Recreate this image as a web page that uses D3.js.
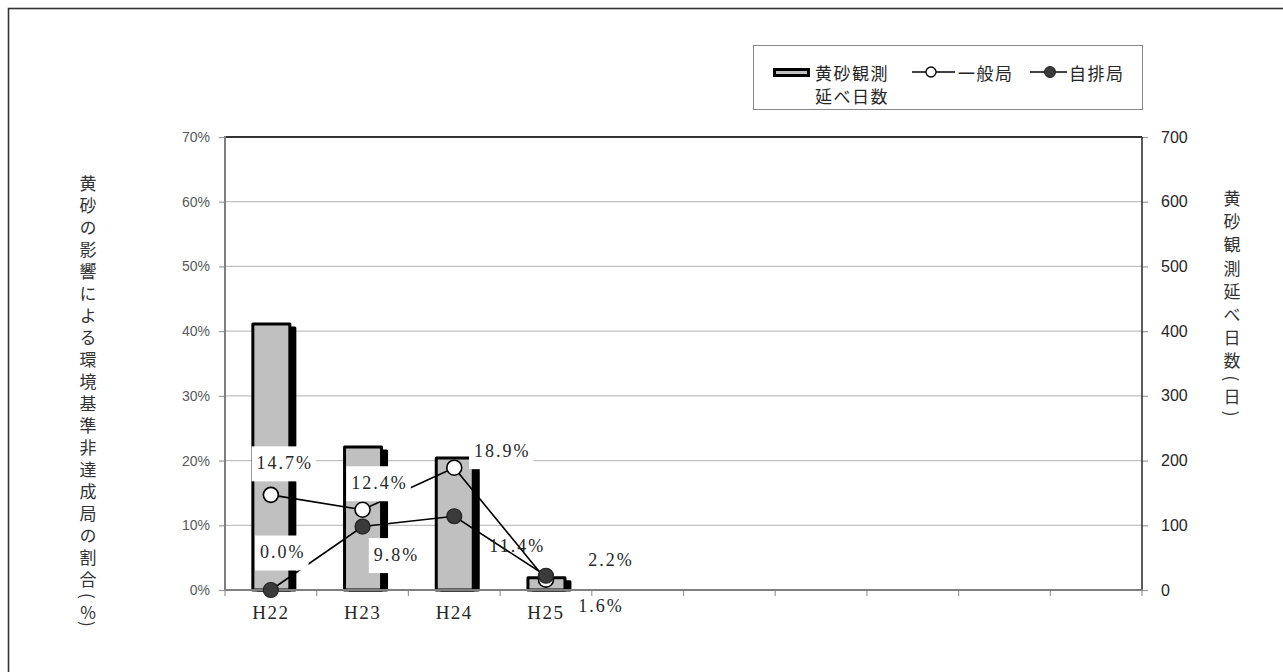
<!DOCTYPE html>
<html><head><meta charset="utf-8">
<script src="https://cdn.jsdelivr.net/npm/d3@7"></script>
<style>
html,body{margin:0;padding:0;background:#fff;}
svg{display:block;}
</style></head>
<body>
<svg id="chart" width="1283" height="672"></svg>
<script>
// ---- data ----
const categories = ["H22","H23","H24","H25","","","","","",""];
const kosaDays   = [411, 221, 204, 19];          // 黄砂観測延べ日数 (right axis)
const ippanPct   = [14.7, 12.4, 18.9, 1.6];      // 一般局 (%)
const jihaiPct   = [0.0, 9.8, 11.4, 2.2];        // 自排局 (%)
const leftTicks  = [0,10,20,30,40,50,60,70];
const rightTicks = [0,100,200,300,400,500,600,700];
const legendBar  = ["黄砂観測","延べ日数"];
const legendIppan = "一般局";
const legendJihai = "自排局";
const leftTitle  = "黄砂の影響による環境基準非達成局の割合(";
const rightTitle = "黄砂観測延べ日数(日)";

// ---- layout (not data) ----
const ippanLabelOff = [[14,-32],[17,-27],[48,-17],[55,26]];
const ippanLabelBox = [true,true,true,false];
const jihaiLabelOff = [[12,-38],[34,28],[63,30],[65,-16]];
const jihaiLabelBox = [true,true,false,false];

const svg = d3.select("#chart");
const P = {l:225, r:1142, t:137, b:590};

// outer frame
svg.append("rect").attr("x",8.5).attr("y",8.5).attr("width",1400).attr("height",1000)
  .attr("fill","none").attr("stroke","#333").attr("stroke-width",1.6);

const x = d3.scaleBand().domain(d3.range(categories.length)).range([P.l,P.r]).paddingInner(0).paddingOuter(0);
const yL = d3.scaleLinear().domain([0,70]).range([P.b,P.t]);
const yR = d3.scaleLinear().domain([0,700]).range([P.b,P.t]);
const cx = i => x(i) + x.bandwidth()/2;

// gridlines
svg.append("g").selectAll("line").data(leftTicks.filter(t=>t>0 && t<70)).join("line")
  .attr("x1",P.l).attr("x2",P.r).attr("y1",d=>yL(d)).attr("y2",d=>yL(d))
  .attr("stroke","#c0c0c0").attr("stroke-width",1.2);

// left axis
const gL = svg.append("g").attr("transform",`translate(${P.l},0)`)
  .call(d3.axisLeft(yL).tickValues(leftTicks).tickSize(6).tickPadding(9).tickFormat(d=>d+"%"));
gL.select(".domain").remove();
gL.selectAll(".tick line").attr("stroke","#999").attr("stroke-width",1.2);
gL.selectAll(".tick text").attr("fill","#595959").style("font-family","'Liberation Sans',Arial,sans-serif").style("font-size","14px");

// right axis
const gR = svg.append("g").attr("transform",`translate(${P.r},0)`)
  .call(d3.axisRight(yR).tickValues(rightTicks).tickSize(6).tickPadding(13));
gR.select(".domain").remove();
gR.selectAll(".tick line").attr("stroke","#999").attr("stroke-width",1.2);
gR.selectAll(".tick text").attr("fill","#262626").style("font-family","'Liberation Sans',Arial,sans-serif").style("font-size","16px");

// x ticks at band boundaries
const bounds = d3.range(categories.length).map(i=>x(i)).concat([P.r]);
svg.append("g").selectAll("line").data(bounds).join("line")
  .attr("x1",d=>d).attr("x2",d=>d).attr("y1",P.b).attr("y2",P.b+6)
  .attr("stroke","#999").attr("stroke-width",1.2);

// plot frame
svg.append("line").attr("x1",P.l).attr("x2",P.r).attr("y1",P.t).attr("y2",P.t).attr("stroke","#333").attr("stroke-width",2);
svg.append("line").attr("x1",P.r).attr("x2",P.r).attr("y1",P.t).attr("y2",P.b).attr("stroke","#333").attr("stroke-width",1.6);

// bars with shadow
const bw = 37;
const bars = svg.append("g");
kosaDays.forEach((v,i)=>{
  const bx = cx(i) - bw/2 + 0.5;
  const by = yR(v);
  bars.append("rect").attr("x",bx+5).attr("y",by+4).attr("width",bw).attr("height",Math.max(0,P.b-by-4))
    .attr("fill","#000").attr("stroke","#000").attr("stroke-width",3).attr("stroke-linejoin","round");
  bars.append("rect").attr("x",bx).attr("y",by).attr("width",bw).attr("height",P.b-by)
    .attr("fill","#c0c0c0").attr("stroke","#000").attr("stroke-width",3).attr("stroke-linejoin","round");
});

// left & bottom axis lines
svg.append("line").attr("x1",P.l).attr("x2",P.l).attr("y1",P.t-1).attr("y2",P.b).attr("stroke","#7f7f7f").attr("stroke-width",2);
svg.append("line").attr("x1",P.l).attr("x2",P.r+1).attr("y1",P.b).attr("y2",P.b).attr("stroke","#7f7f7f").attr("stroke-width",2);

// x category labels
svg.append("g").selectAll("text").data(categories).join("text")
  .attr("x",(d,i)=>cx(i)).attr("y",612).attr("text-anchor","middle").attr("dominant-baseline","central")
  .attr("fill","#262626").style("font-family","'Liberation Serif','Times New Roman',serif").style("font-size","19px")
  .style("letter-spacing","1.5px").text(d=>d);

// lines
const line = d3.line().x((d,i)=>cx(i)).y(d=>yL(d));
svg.append("path").datum(ippanPct).attr("d",line).attr("fill","none").attr("stroke","#000").attr("stroke-width",1.6);
svg.append("path").datum(jihaiPct).attr("d",line).attr("fill","none").attr("stroke","#000").attr("stroke-width",1.6);
svg.append("g").selectAll("circle").data(ippanPct).join("circle")
  .attr("cx",(d,i)=>cx(i)).attr("cy",d=>yL(d)).attr("r",7.5)
  .attr("fill","#fff").attr("stroke","#000").attr("stroke-width",1.6);
svg.append("g").selectAll("circle").data(jihaiPct).join("circle")
  .attr("cx",(d,i)=>cx(i)).attr("cy",d=>yL(d)).attr("r",7.5)
  .attr("fill","#3a3a3a").attr("stroke","#222").attr("stroke-width",1.2);

// data labels
function labels(vals, offs, boxes){
  const g = svg.append("g");
  vals.forEach((v,i)=>{
    const lx = cx(i)+offs[i][0], ly = yL(v)+offs[i][1];
    const t = g.append("text").attr("x",lx).attr("y",ly).attr("text-anchor","middle").attr("dominant-baseline","central")
      .attr("fill","#262626").style("font-family","'Liberation Serif','Times New Roman',serif").style("font-size","18px")
      .style("letter-spacing","2px").text(v.toFixed(1)+"%");
    if(boxes[i]){
      const bb = t.node().getBBox();
      g.insert("rect","text").attr("x",bb.x-5).attr("y",ly-16.5).attr("width",bb.width+8).attr("height",35).attr("fill","#fff");
    }
  });
}
labels(ippanPct, ippanLabelOff, ippanLabelBox);
labels(jihaiPct, jihaiLabelOff, jihaiLabelBox);

// axis titles (vertical)
const lt = svg.append("text").attr("x",88).attr("y",175)
  .style("writing-mode","vertical-rl").style("font-family","'Noto Sans CJK JP',sans-serif")
  .style("font-size","17px").style("letter-spacing","5px").attr("fill","#333");
lt.append("tspan").text(leftTitle);
lt.append("tspan").style("text-orientation","upright").style("letter-spacing","0px").text("%");
lt.append("tspan").text(")");

svg.append("text").attr("x",1232).attr("y",190)
  .style("writing-mode","vertical-rl").style("font-family","'Noto Sans CJK JP',sans-serif")
  .style("font-size","17px").style("letter-spacing","6.2px").attr("fill","#333").text(rightTitle);

// legend
const lg = svg.append("g");
lg.append("rect").attr("x",753.5).attr("y",45.5).attr("width",389).attr("height",64).attr("fill","#fff").attr("stroke","#888").attr("stroke-width",1);
lg.append("rect").attr("x",774.5).attr("y",69.5).attr("width",34).attr("height",6).attr("fill","#c0c0c0").attr("stroke","#000").attr("stroke-width",3);
const lfont = s => s.style("font-family","'Noto Sans CJK JP',sans-serif").style("font-size","17px").style("letter-spacing","1.5px").attr("fill","#262626").attr("dominant-baseline","central");
legendBar.forEach((t,i)=>lg.append("text").attr("x",815).attr("y",72+i*23).text(t).call(lfont));
lg.append("line").attr("x1",912).attr("x2",955).attr("y1",72).attr("y2",72).attr("stroke","#000").attr("stroke-width",1.5);
lg.append("circle").attr("cx",931).attr("cy",72).attr("r",5).attr("fill","#fff").attr("stroke","#000").attr("stroke-width",1.3);
lg.append("text").attr("x",958).attr("y",72).text(legendIppan).call(lfont);
lg.append("line").attr("x1",1030).attr("x2",1067).attr("y1",72).attr("y2",72).attr("stroke","#000").attr("stroke-width",1.5);
lg.append("circle").attr("cx",1050).attr("cy",72).attr("r",5.5).attr("fill","#3a3a3a").attr("stroke","#222").attr("stroke-width",1);
lg.append("text").attr("x",1069).attr("y",72).text(legendJihai).call(lfont);
</script>
</body></html>
